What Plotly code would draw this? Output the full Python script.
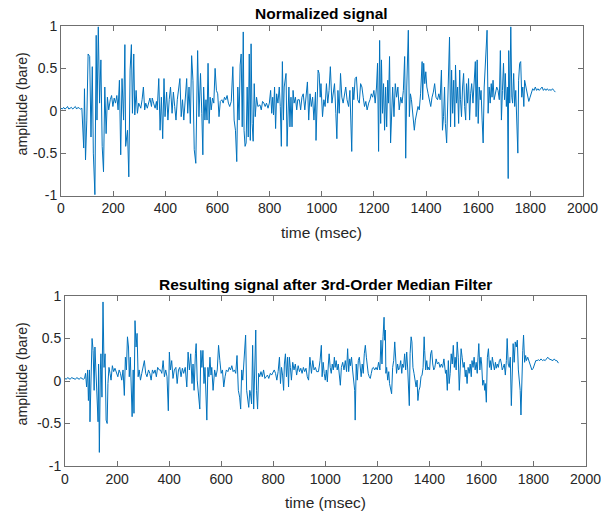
import plotly.graph_objects as go

# ---------------- data (time in msec, amplitude) ----------------
top_time = [0,5,10,15,20,25,30,35,40,45,50,55,60,65,70,75,80,
 83,87,90,94,99,104,110,115,120,124,130,135,138,143,148,153,158,163,168,173,178,183,189,194,199,
 204,209,214,219,224,229,234,240,245,248,255,260,265,270,274,279,283,288,293,298,
 306,311,316,321,325,331,336,341,347,350,355,361,366,369,375,380,385,390,395,399,
 405,410,415,420,426,431,436,441,446,451,456,461,466,471,476,
 482,486,491,496,501,506,511,517,522,524,529,535,540,544,547,552,556,560,564,568,572,576,581,586,591,596,
 601,606,611,617,622,627,632,637,642,647,653,659,664,669,674,678,683,687,691,695,699,702,706,
 710,714,718,722,726,729,733,737,741,745,750,755,763,768,773,778,783,788,794,799,
 804,808,812,815,819,823,827,832,837,841,845,849,853,856,863,867,870,874,878,882,886,890,894,899,
 904,908,914,919,924,929,935,940,945,950,955,960,965,970,976,
 978,982,986,990,994,997,1003,1008,1013,1018,1023,1028,1033,1039,1044,1049,1054,1058,1062,1067,1072,1077,
 1082,1087,1092,1097,1103,1108,1112,1115,1119,1123,1128,1133,1138,1144,1149,1154,1159,1164,1169,1174,
 1180,1185,1190,1195,1200,1205,1210,1214,1218,1222,1226,1229,1233,1237,1241,1245,1249,1253,1256,1260,1264,1268,1272,1277,
 1282,1287,1292,1297,1303,1308,1313,1318,1322,1326,1330,1332,1336,1340,1344,1348,1351,1355,1359,1364,1369,1374,1379,
 1385,1387,1391,1395,1399,1403,1408,1413,1418,1423,1428,1433,1438,1444,1449,1454,1459,1463,1467,1471,1474,
 1479,1483,1487,1490,1494,1498,1502,1506,1510,1513,1517,1521,1525,1529,1532,1536,1540,1544,1548,1552,1555,1559,1563,1567,1571,1575,
 1580,1585,1589,1592,1596,1600,1604,1608,1611,1615,1619,1623,1627,1631,1634,1638,1642,1646,1650,1653,1657,1661,1666,1671,1676,
 1681,1685,1689,1693,1697,1701,1704,1708,1712,1715,1717,1721,1725,1729,1732,1736,1740,1744,1748,1752,1755,1759,1763,1767,1771,1775,1778,
 1783,1789,1794,1799,1804,1809,1814,1819,1824,1829,1834,1839,1845,1850,1855,1860,1865,1870,1875,1880,1885,1890,1896]

top_amp = [0.03,0.02,0.04,0.02,0.03,0.05,0.02,0.03,0.04,0.02,0.03,0.05,0.02,0.04,0.03,0.02,0.03,
 -0.19,-0.44,0.26,-0.58,-0.11,0.67,0.64,-0.31,0.52,-0.50,-0.99,0.89,-0.11,0.99,0.09,0.60,-0.42,-0.72,0.28,-0.27,0.16,0.01,0.13,0.18,0.05,
 0.15,0.09,0.18,0.01,0.36,-0.52,0.38,-0.11,0.78,-0.42,-0.23,-0.78,0.48,0.78,-0.03,0.67,-0.05,0.24,-0.03,0.09,
 0.03,0.13,0.28,0.01,0.09,0.03,0.11,0.15,0.05,0.15,0.09,0.03,0.11,0.01,0.38,-0.23,0.16,-0.33,0.38,-0.07,
 0.22,-0.11,0.13,0.28,-0.03,0.22,0.05,-0.11,0.13,0.24,0.38,-0.07,0.13,-0.11,0.16,
 0.38,-0.03,0.28,-0.15,0.65,0.36,-0.46,-0.62,0.36,0.71,-0.07,0.44,-0.03,-0.52,0.28,-0.11,0.13,-0.11,0.56,-0.15,0.16,0.01,0.15,0.09,0.50,0.24,
 0.20,-0.07,0.11,0.13,0.09,0.16,0.13,0.18,0.09,0.05,0.11,0.52,-0.11,-0.23,-0.60,0.28,-0.11,0.54,0.67,-0.19,0.93,-0.23,-0.42,
 -0.38,0.28,-0.31,0.67,-0.35,0.79,-0.15,-0.36,0.32,-0.07,0.16,0.05,0.07,0.01,0.11,0.09,0.05,0.09,0.03,0.09,
 0.24,-0.03,0.16,-0.05,0.28,-0.21,0.20,0.09,0.28,0.05,-0.42,0.58,-0.11,0.28,0.44,-0.42,-0.07,0.28,-0.19,0.16,-0.19,0.24,0.09,0.16,
 0.01,0.13,0.13,0.01,0.16,0.20,0.01,0.22,0.34,-0.11,0.20,0.05,0.16,-0.11,0.22,
 -0.35,0.28,0.48,0.44,0.16,0.32,-0.07,0.13,0.05,0.32,0.09,0.24,0.52,0.09,0.20,0.32,-0.03,-0.33,0.24,-0.03,0.44,0.16,
 0.09,0.20,0.28,0.13,0.05,0.24,-0.07,-0.48,0.28,0.13,0.38,0.40,0.13,0.09,0.32,0.28,0.16,0.05,0.11,0.01,
 0.09,0.13,0.20,0.16,0.24,0.09,0.28,0.56,-0.48,0.83,-0.15,0.60,-0.03,0.32,-0.23,0.28,-0.19,0.36,0.09,0.64,-0.38,0.05,0.28,-0.07,
 0.32,0.16,0.28,0.01,0.16,0.09,0.24,0.64,-0.56,0.28,0.79,0.95,-0.07,0.20,0.13,0.01,-0.11,-0.23,-0.11,-0.03,0.05,0.01,0.20,
 0.58,0.13,0.56,0.32,0.46,0.28,0.20,0.13,0.05,0.16,0.22,0.32,0.16,0.13,0.20,0.13,0.48,-0.23,-0.07,0.28,-0.15,
 -0.38,0.20,0.46,0.87,-0.19,0.48,-0.03,0.36,-0.19,0.54,0.09,0.28,-0.15,0.48,0.13,-0.07,0.28,0.44,0.05,-0.11,0.32,0.09,0.38,-0.11,0.20,0.32,
 0.09,0.32,0.58,-0.07,0.60,-0.15,0.28,0.13,0.24,-0.11,-0.38,0.28,0.52,0.64,0.95,-0.03,0.28,0.09,0.32,0.16,0.36,0.13,0.20,0.28,0.24,
 0.13,0.71,-0.11,0.24,0.56,0.13,0.44,0.05,0.28,-0.80,0.71,0.09,0.99,0.16,0.09,0.44,0.05,0.24,-0.23,-0.50,0.36,0.56,0.58,0.16,0.28,0.05,0.36,
 0.28,0.20,0.11,0.16,0.22,0.26,0.24,0.28,0.24,0.26,0.24,0.26,0.28,0.24,0.26,0.24,0.26,0.24,0.25,0.24,0.26,0.24,0.22]

bot_time = [0,5,10,15,20,25,30,35,40,45,50,55,60,65,70,75,
 79,83,87,90,94,96,100,104,108,112,115,119,123,127,129,132,136,138,142,146,150,154,158,162,165,169,173,177,182,187,192,197,203,
 208,213,218,223,228,232,236,240,244,247,251,255,258,262,265,269,273,277,281,285,290,295,300,305,
 310,315,321,326,331,336,341,346,351,356,362,367,372,377,382,387,392,397,401,405,410,415,420,426,431,436,441,446,451,456,
 462,468,473,478,483,488,492,496,501,504,508,513,518,522,526,530,534,538,541,545,549,553,557,561,564,
 569,575,580,585,590,595,600,605,610,615,620,626,631,636,641,646,651,656,661,666,
 671,675,679,683,687,690,694,698,702,706,710,713,717,721,725,729,733,736,740,744,748,
 753,758,763,768,773,778,783,789,794,799,804,809,814,819,824,828,832,836,840,843,847,851,855,859,862,866,
 870,875,880,885,890,896,901,906,911,916,921,926,931,936,941,947,952,957,962,967,
 974,980,985,988,992,996,1000,1004,1008,1012,1015,1019,1023,1027,1031,1035,1038,1042,1046,1050,1054,1058,1062,
 1067,1072,1077,1082,1086,1090,1094,1097,1101,1105,1109,1113,1115,1119,1123,1127,1131,1135,1138,1142,1146,1150,1154,1158,1162,1165,
 1169,1173,1177,1181,1185,1190,1195,1200,1205,1210,1214,1218,1222,1226,1228,1231,1233,1236,1240,1244,1247,1251,1255,1259,
 1263,1267,1271,1274,1278,1282,1286,1290,1294,1297,1301,1305,1309,1313,1317,1321,1323,1326,1330,1333,1337,1341,1345,1349,1353,1356,
 1360,1364,1368,1372,1376,1380,1382,1386,1390,1394,1397,1401,1405,1409,1413,1417,1421,1426,1431,1436,1441,1446,1451,1456,1462,
 1465,1469,1473,1476,1480,1484,1488,1492,1496,1499,1503,1507,1511,1515,1519,1522,1526,1530,1534,1538,1541,1545,1549,1553,1557,1561,
 1564,1568,1572,1576,1580,1584,1587,1590,1594,1598,1601,1605,1609,1613,1615,1619,1623,1627,1631,1634,1638,1642,1646,1650,1654,1657,1661,
 1665,1669,1673,1677,1680,1684,1688,1692,1696,1699,1703,1707,1711,1715,1719,1722,1726,1730,1734,1738,1742,1745,1749,1752,1756,1759,1762,1766,1770,1773,
 1778,1784,1789,1794,1799,1804,1809,1814,1819,1824,1829,1835,1840,1845,1850,1855,1860,1865,1870,1875,1880,1885,1890,1896]

bot_amp = [0.03,0.02,0.04,0.03,0.02,0.04,0.03,0.03,0.02,0.04,0.03,0.02,0.04,0.03,0.02,0.03,
 0.09,-0.07,0.13,-0.23,0.13,-0.48,0.24,0.50,0.36,-0.11,0.40,0.16,-0.11,-0.48,0.20,-0.84,0.13,0.32,-0.19,0.93,0.16,0.32,-0.46,-0.50,-0.03,0.16,0.09,0.01,0.18,0.11,0.15,0.09,0.05,
 0.13,0.09,0.01,0.13,-0.17,0.28,0.13,0.52,0.40,0.05,0.28,-0.07,-0.42,0.13,-0.38,0.71,0.40,0.56,0.05,0.13,0.01,0.09,0.16,0.24,
 0.09,0.05,0.13,0.09,0.01,0.13,0.09,0.13,0.05,0.16,0.13,0.13,0.09,0.24,0.05,0.13,0.05,-0.35,0.34,0.13,0.24,0.03,0.13,0.16,-0.03,0.13,0.16,0.05,0.15,0.09,
 0.16,-0.07,0.34,0.13,0.32,-0.03,0.20,-0.11,0.32,0.44,0.01,-0.19,-0.33,0.36,0.16,0.36,-0.03,0.16,-0.11,-0.46,0.16,0.05,0.28,0.07,0.16,
 -0.11,0.13,0.05,0.13,0.42,0.24,0.09,0.13,-0.07,0.05,0.13,0.11,0.16,0.13,0.18,0.11,0.13,0.09,0.30,-0.11,
 -0.19,-0.33,0.13,0.01,0.24,0.40,0.54,-0.11,-0.23,-0.31,-0.11,-0.15,-0.27,0.42,-0.33,0.24,0.60,-0.11,-0.33,0.09,0.05,
 0.11,0.05,0.13,0.03,0.05,0.07,0.03,0.09,0.07,0.11,0.13,0.09,0.01,0.11,0.28,-0.03,0.16,0.07,-0.11,0.20,0.32,0.05,0.28,-0.07,0.28,0.16,
 0.01,0.22,0.13,0.20,0.07,0.18,0.11,0.15,0.09,0.16,0.11,0.15,0.05,0.01,0.28,0.09,0.24,0.13,0.16,0.11,
 0.11,0.24,0.42,0.05,0.22,0.09,0.01,0.13,-0.01,0.20,0.32,0.16,0.09,0.20,0.13,0.28,0.16,0.24,0.13,0.20,0.09,-0.05,0.16,
 0.22,0.13,0.24,0.11,0.38,0.11,0.26,0.18,0.28,0.13,-0.03,-0.11,-0.46,0.20,0.01,0.24,0.28,0.16,0.05,0.20,0.09,0.32,0.42,0.28,0.13,0.09,
 0.05,0.03,0.09,0.15,0.16,0.13,0.16,0.13,0.22,0.13,0.48,0.20,0.52,0.75,0.48,0.60,0.09,0.16,0.01,0.11,-0.03,-0.11,-0.15,0.16,
 0.24,0.46,0.16,0.09,0.20,0.13,0.16,0.24,0.09,0.20,0.16,0.32,0.13,0.34,0.13,-0.11,-0.29,0.32,0.52,0.46,0.16,0.09,-0.03,-0.07,0.01,-0.23,
 -0.11,-0.07,0.05,0.07,0.16,0.52,0.36,0.13,0.24,0.13,0.16,0.13,0.32,0.36,0.20,0.13,0.16,0.26,0.20,0.22,0.16,0.20,0.16,0.26,0.09,
 0.13,-0.11,0.24,-0.03,0.09,0.32,0.20,0.42,0.16,0.28,0.13,0.46,0.28,-0.11,0.16,0.38,0.28,0.16,0.22,0.05,0.13,-0.03,0.16,0.09,0.20,0.05,
 0.24,0.16,0.28,0.13,0.22,0.09,0.28,0.44,0.13,0.28,0.20,-0.05,0.01,-0.11,-0.03,-0.25,0.28,0.38,0.16,0.24,0.13,0.28,0.20,0.13,0.22,0.15,0.20,
 0.16,0.24,0.26,0.20,0.13,0.16,0.20,0.07,0.24,0.50,0.20,0.16,0.28,-0.29,0.36,0.44,0.22,0.46,0.40,0.48,0.13,0.01,-0.11,-0.40,0.28,0.36,0.54,0.22,0.30,0.24,
 0.28,0.22,0.18,0.13,0.15,0.20,0.24,0.24,0.25,0.24,0.26,0.24,0.25,0.24,0.26,0.28,0.26,0.25,0.24,0.24,0.26,0.24,0.24,0.21]

x_ticks = [0, 200, 400, 600, 800, 1000, 1200, 1400, 1600, 1800, 2000]
y_ticks = [-1, -0.5, 0, 0.5, 1]
y_tick_text = ["-1", "-0.5", "0", "0.5", "1"]

titles = ["Normalized signal", "Resulting signal after 3rd-Order Median Filter"]
x_label = "time (msec)"
y_label = "amplitude (bare)"

assert len(top_time) == len(top_amp), (len(top_time), len(top_amp))
assert len(bot_time) == len(bot_amp), (len(bot_time), len(bot_amp))

# ---------------- figure ----------------
W, H = 601, 515
LINE = "#0072BD"
AX = "#6f6f6f"
TXT = "#262626"
FONT = "Liberation Sans, Arial, Helvetica, sans-serif"

fig = go.Figure()
fig.add_trace(go.Scatter(x=top_time, y=top_amp, mode="lines",
                         line=dict(color=LINE, width=1), xaxis="x", yaxis="y",
                         showlegend=False, hoverinfo="skip"))
fig.add_trace(go.Scatter(x=bot_time, y=bot_amp, mode="lines",
                         line=dict(color=LINE, width=1), xaxis="x2", yaxis="y2",
                         showlegend=False, hoverinfo="skip"))

px_x = lambda p: p / W
px_y = lambda p: 1 - p / H

top_dom_x = [px_x(61), px_x(582.5)]
top_dom_y = [px_y(195.5), px_y(26)]
bot_dom_x = [px_x(65), px_x(585.5)]
bot_dom_y = [px_y(466), px_y(296)]

common_x = dict(range=[0, 2000], tickvals=x_ticks, ticks="inside", ticklen=5,
                tickcolor=AX, showline=True, linecolor=AX, linewidth=1,
                mirror="allticks", showgrid=False, zeroline=False,
                automargin=False, ticklabeloverflow="allow",
                tickfont=dict(family=FONT, size=14, color=TXT), fixedrange=True)
common_y = dict(range=[-1, 1], tickvals=y_ticks, ticktext=y_tick_text,
                ticks="inside", ticklen=5, tickcolor=AX, showline=True,
                linecolor=AX, linewidth=1, mirror="allticks", showgrid=False,
                zeroline=False, automargin=False,
                tickfont=dict(family=FONT, size=14, color=TXT),
                fixedrange=True)

fig.update_layout(
    template="none",
    width=W, height=H, autosize=False,
    margin=dict(l=0, r=0, t=0, b=0, pad=0),
    paper_bgcolor="white", plot_bgcolor="white",
    xaxis=dict(domain=top_dom_x, anchor="y", **common_x),
    yaxis=dict(domain=top_dom_y, anchor="x", **common_y),
    xaxis2=dict(domain=bot_dom_x, anchor="y2", **common_x),
    yaxis2=dict(domain=bot_dom_y, anchor="x2", **common_y),
)

ann = []
# titles
ann.append(dict(text="<b>%s</b>" % titles[0], x=sum(top_dom_x) / 2, y=px_y(13),
                xref="paper", yref="paper", showarrow=False, xanchor="center",
                yanchor="middle", font=dict(family=FONT, size=15.5, color="#000000")))
ann.append(dict(text="<b>%s</b>" % titles[1], x=sum(bot_dom_x) / 2, y=px_y(284),
                xref="paper", yref="paper", showarrow=False, xanchor="center",
                yanchor="middle", font=dict(family=FONT, size=15.5, color="#000000")))
# x labels
for dom, yy in ((top_dom_x, 232), (bot_dom_x, 502)):
    ann.append(dict(text=x_label, x=sum(dom) / 2, y=px_y(yy), xref="paper",
                    yref="paper", showarrow=False, xanchor="center",
                    yanchor="middle", font=dict(family=FONT, size=15.5, color=TXT)))
# y labels
for yy in (104, 374):
    ann.append(dict(text=y_label, x=px_x(21.5), y=px_y(yy), xref="paper",
                    yref="paper", showarrow=False, xanchor="center",
                    yanchor="middle", textangle=-90,
                    font=dict(family=FONT, size=14.2, color=TXT)))
fig.update_layout(annotations=ann)

fig.write_html("out.html")
